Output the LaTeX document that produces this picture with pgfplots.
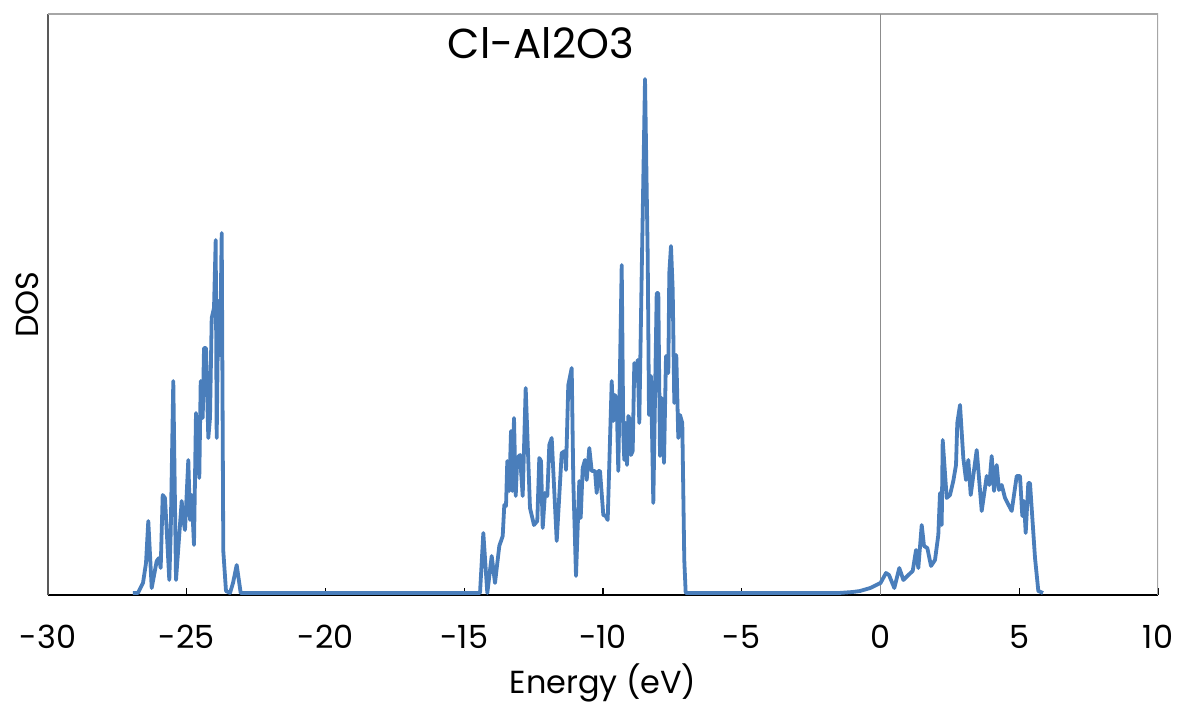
\documentclass[border=0pt]{standalone}
\usepackage{fontspec}
\setmainfont{Poppins}
\usepackage{pgfplots}
\pgfplotsset{compat=1.18}
\definecolor{dosblue}{HTML}{4A7EBB}
\definecolor{framegray}{HTML}{A6A6A6}
\definecolor{zerogray}{HTML}{8C8C8C}
\definecolor{leftgray}{HTML}{595959}
\begin{document}
\begin{tikzpicture}
\begin{axis}[
  scale only axis, width=555bp, height=290.5bp,
  xmin=-30, xmax=10, ymin=-2, ymax=579,
  axis x line*=bottom, axis y line*=left,
  x axis line style={black, line width=1.2bp},
  y axis line style={leftgray, line width=1bp},
  xtick={-30,-25,...,10}, ytick=\empty,
  tick align=inside, major tick length=3.5bp,
  xtick style={black, line width=0.6bp},
  /pgf/number format/assume math mode=true,
  xticklabel style={font=\fontsize{16}{19}\selectfont, anchor=center, yshift=-21bp},
  xlabel={Energy (eV)},
  xlabel style={font=\fontsize{16}{19}\selectfont, at={(axis description cs:0.5,-0.152)}, anchor=center},
  ylabel={DOS},
  ylabel style={font=\fontsize{16}{19}\selectfont, at={(axis description cs:-0.0189,0.5)}, anchor=center},
  title={Cl-Al2O3},
  title style={font=\fontsize{21}{24}\selectfont, at={(axis description cs:0.444,0.929)}, anchor=center},
]
\coordinate (SW) at (rel axis cs:0,0);
\coordinate (NE) at (rel axis cs:1,1);
\draw[framegray, line width=0.8bp] (rel axis cs:0,1) -- (rel axis cs:1,1) -- (rel axis cs:1,0);
\draw[zerogray, line width=0.75bp] (axis cs:0,-2) -- (axis cs:0,579);
\addplot[dosblue, line width=1.9bp, line join=round, mark=none] coordinates {
(-26.937,0) (-26.757,0) (-26.577,10) (-26.468,30) (-26.386,72) (-26.263,5) (-26.083,32) (-26.0,35) (-25.939,25) (-25.867,98) (-25.784,95) (-25.629,13) (-25.578,60) (-25.485,212) (-25.387,13) (-25.182,92) (-25.124,73) (-25.063,63) (-24.944,133) (-24.883,73) (-24.822,98) (-24.739,48) (-24.667,180) (-24.548,115) (-24.497,212) (-24.425,175) (-24.378,245) (-24.306,245) (-24.223,155) (-24.162,175) (-24.101,275) (-24.018,285) (-23.957,353) (-23.921,155) (-23.863,292) (-23.802,238) (-23.740,360) (-23.683,42) (-23.586,2) (-23.441,0) (-23.333,10) (-23.200,28) (-23.056,0) (-14.432,0)
(-14.313,60) (-14.169,0) (-14.011,37) (-13.892,10) (-13.737,47) (-13.614,57) (-13.557,88) (-13.495,87) (-13.449,132) (-13.377,102) (-13.315,162) (-13.269,102) (-13.207,175) (-13.146,97) (-13.088,135) (-12.991,138) (-12.894,97) (-12.786,205) (-12.631,85) (-12.487,68) (-12.368,72) (-12.296,135) (-12.234,132) (-12.173,65) (-12.090,100) (-12.007,97) (-11.935,148) (-11.849,155) (-11.668,52) (-11.488,140) (-11.369,142) (-11.333,123) (-11.251,208) (-11.128,225) (-11.070,112) (-10.973,17) (-10.854,112) (-10.804,75) (-10.732,125) (-10.649,133) (-10.587,113) (-10.494,145) (-10.407,122) (-10.288,122) (-10.227,100) (-10.170,122) (-10.108,122) (-9.989,78) (-9.903,77) (-9.831,73) (-9.686,212) (-9.629,172) (-9.568,198) (-9.506,192) (-9.449,122) (-9.326,328) (-9.269,160) (-9.233,133) (-9.182,170) (-9.135,128) (-9.088,177) (-9.027,173) (-8.991,138) (-8.930,142) (-8.872,230) (-8.822,212) (-8.750,233) (-8.692,170) (-8.605,320) (-8.486,514) (-8.389,337) (-8.342,178) (-8.270,217) (-8.187,90) (-8.065,300) (-8.007,300) (-7.946,137) (-7.885,195) (-7.802,130) (-7.730,237) (-7.647,220) (-7.611,320) (-7.550,347) (-7.488,303) (-7.431,190) (-7.359,238) (-7.287,155) (-7.225,178) (-7.143,170) (-7.071,33) (-7.020,0)
(-1.5,0) (-1.0,1) (-0.739,2) (-0.369,5) (0,10) (0.198,20) (0.306,18) (0.498,5) (0.678,25) (0.823,13) (1.003,18) (1.161,22) (1.280,43) (1.363,25) (1.485,68) (1.568,47) (1.687,45) (1.820,27) (1.964,33) (2.083,58) (2.144,100) (2.205,68) (2.241,153) (2.385,95) (2.504,98) (2.623,112) (2.721,128) (2.767,170) (2.865,188) (2.984,135) (3.081,113) (3.164,133) (3.251,98) (3.467,143) (3.647,82) (3.827,117) (3.921,108) (4.007,137) (4.090,102) (4.187,128) (4.270,103) (4.368,108) (4.486,95) (4.728,82) (4.908,117) (5.027,117) (5.110,77) (5.171,92) (5.232,60) (5.326,110) (5.387,110) (5.568,35) (5.687,2) (5.856,0)
};
\end{axis}
\pgfresetboundingbox
\path[use as bounding box] ([shift={(-24bp,-55bp)}]SW) rectangle ([shift={(11bp,7bp)}]NE);
\end{tikzpicture}
\end{document}
